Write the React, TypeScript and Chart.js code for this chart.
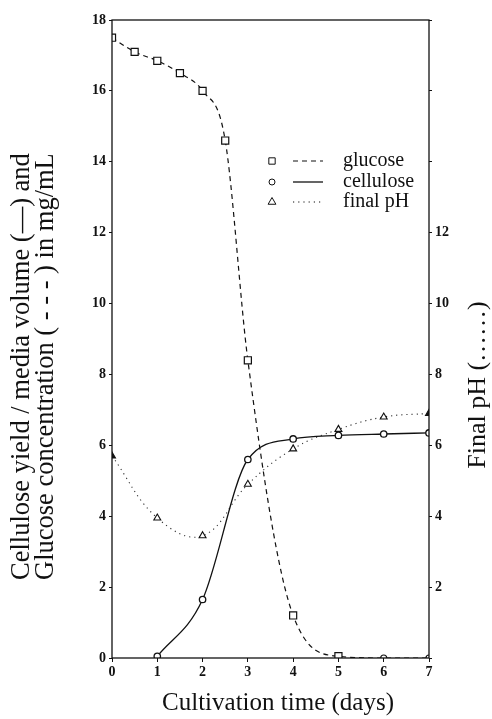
import React, { useEffect, useRef } from 'react';
import { Chart, registerables } from 'chart.js';

Chart.register(...registerables);

// ---- data ----
const glucoseDays = [0, 0.5, 1, 1.5, 2, 2.5, 3, 4, 5, 6, 7];
const glucose = [17.5, 17.1, 16.85, 16.5, 16.0, 14.6, 8.4, 1.2, 0.05, 0, 0];
const celluloseDays = [1, 2, 3, 4, 5, 6, 7];
const cellulose = [0.05, 1.65, 5.6, 6.18, 6.28, 6.32, 6.35];
const phDays = [0, 1, 2, 3, 4, 5, 6, 7];
const finalPH = [5.7, 3.95, 3.45, 4.9, 5.9, 6.45, 6.8, 6.9];
const rightTickLabels = [2, 4, 6, 8, 10, 12];
const seriesLabels = ['glucose', 'cellulose', 'final pH'];
const xTitle = 'Cultivation time (days)';
const leftTitle = ['Cellulose yield / media volume (\u2014) and', 'Glucose concentration ( - - - ) in mg/mL'];
const rightTitle = 'Final pH (\u2026\u2026)';

const INK = '#111';
const SERIF = '"Liberation Serif", "Times New Roman", serif';

function drawMarker(ctx: CanvasRenderingContext2D, style: string, x: number, y: number, r: number) {
  ctx.beginPath();
  if (style === 'rect') {
    const s = r * Math.SQRT1_2;
    ctx.rect(x - s, y - s, 2 * s, 2 * s);
  } else if (style === 'triangle') {
    ctx.moveTo(x, y - r);
    ctx.lineTo(x + r * 0.866, y + r * 0.5);
    ctx.lineTo(x - r * 0.866, y + r * 0.5);
    ctx.closePath();
  } else {
    ctx.arc(x, y, r, 0, Math.PI * 2);
  }
  ctx.stroke();
}

const decorPlugin = {
  id: 'decor',
  afterDraw(chart: any) {
    const { ctx, chartArea } = chart;
    ctx.save();
    // frame
    ctx.strokeStyle = INK;
    ctx.lineWidth = 1.3;
    ctx.setLineDash([]);
    ctx.strokeRect(chartArea.left, chartArea.top, chartArea.right - chartArea.left, chartArea.bottom - chartArea.top);

    // legend
    const rows = [161, 182, 202];
    chart.data.datasets.forEach((ds: any, i: number) => {
      const y = rows[i];
      ctx.strokeStyle = INK;
      ctx.lineWidth = 1;
      ctx.setLineDash([]);
      drawMarker(ctx, ds.legendStyle, 272, y, ds.legendStyle === 'circle' ? 3 : 4.5);
      ctx.beginPath();
      ctx.lineWidth = ds.borderWidth;
      ctx.setLineDash(ds.borderDash || []);
      ctx.moveTo(293, y);
      ctx.lineTo(323, y);
      ctx.stroke();
      ctx.setLineDash([]);
      ctx.fillStyle = INK;
      ctx.font = `20px ${SERIF}`;
      ctx.textAlign = 'left';
      ctx.textBaseline = 'middle';
      ctx.fillText(ds.label, 343, y);
    });

    // titles
    ctx.fillStyle = INK;
    ctx.font = `25px ${SERIF}`;
    ctx.textAlign = 'center';
    ctx.textBaseline = 'middle';
    ctx.fillText(xTitle, 278, 703);

    ctx.save();
    ctx.translate(22, 580);
    ctx.rotate(-Math.PI / 2);
    ctx.font = `26.5px ${SERIF}`;
    ctx.textAlign = 'left';
    ctx.fillText(leftTitle[0], 0, 0);
    ctx.fillText(leftTitle[1], 0, 24);
    ctx.restore();

    ctx.save();
    ctx.translate(478, 385);
    ctx.rotate(-Math.PI / 2);
    ctx.font = `26px ${SERIF}`;
    ctx.textAlign = 'center';
    ctx.fillText(rightTitle, 0, 0);
    ctx.restore();
    ctx.restore();
  },
};

export default function App() {
  const ref = useRef<HTMLCanvasElement>(null);

  useEffect(() => {
    if (!ref.current) return;
    const tickFont = { family: SERIF, size: 14, weight: 'bold' as const };
    const chart = new Chart(ref.current, {
      type: 'line',
      data: {
        datasets: [
          {
            label: seriesLabels[0],
            data: glucoseDays.map((d, i) => ({ x: d, y: glucose[i] })),
            borderColor: INK,
            borderWidth: 1.2,
            borderDash: [5, 4],
            cubicInterpolationMode: 'monotone',
            pointStyle: glucoseDays.map((d) => (d >= 6 ? 'circle' : 'rect')),
            pointRadius: glucoseDays.map((d) => (d >= 6 ? 3 : 5)),
            pointBorderColor: INK,
            pointBackgroundColor: '#fff',
            pointBorderWidth: 1.2,
            fill: false,
            yAxisID: 'y',
            legendStyle: 'rect',
          } as any,
          {
            label: seriesLabels[1],
            data: celluloseDays.map((d, i) => ({ x: d, y: cellulose[i] })),
            borderColor: INK,
            borderWidth: 1.3,
            cubicInterpolationMode: 'monotone',
            pointStyle: 'circle',
            pointRadius: 3.2,
            pointBorderColor: INK,
            pointBackgroundColor: '#fff',
            pointBorderWidth: 1.3,
            fill: false,
            yAxisID: 'y',
            legendStyle: 'circle',
          } as any,
          {
            label: seriesLabels[2],
            data: phDays.map((d, i) => ({ x: d, y: finalPH[i] })),
            borderColor: '#333',
            borderWidth: 1.1,
            borderDash: [1.2, 4],
            tension: 0.4,
            pointStyle: 'triangle',
            pointRadius: 4,
            pointBorderColor: INK,
            pointBackgroundColor: phDays.map((d) => (d === 0 || d === 7 ? INK : '#fff')),
            pointBorderWidth: 1.1,
            fill: false,
            yAxisID: 'y2',
            legendStyle: 'triangle',
          } as any,
        ],
      },
      options: {
        responsive: false,
        animation: false,
        layout: { padding: { top: 20, left: 0, right: 0, bottom: 0 } },
        plugins: {
          legend: { display: false },
          tooltip: { enabled: false },
          title: { display: false },
        },
        scales: {
          x: {
            type: 'linear',
            min: 0,
            max: 7,
            ticks: { stepSize: 1, color: INK, font: tickFont, padding: 2 },
            grid: { drawOnChartArea: false, tickLength: 4, color: INK },
            border: { display: false },
            afterFit: (s: any) => { s.height = 61; },
          },
          y: {
            type: 'linear',
            position: 'left',
            min: 0,
            max: 18,
            ticks: { stepSize: 2, color: INK, font: tickFont, padding: 3 },
            grid: { drawOnChartArea: false, tickLength: 3, color: INK },
            border: { display: false },
            afterFit: (s: any) => { s.width = 112; },
          },
          y2: {
            type: 'linear',
            position: 'right',
            min: 0,
            max: 18,
            ticks: {
              stepSize: 2,
              color: INK,
              font: tickFont,
              padding: 3,
              callback: (v: any) => (rightTickLabels.includes(Number(v)) ? String(v) : ''),
            },
            grid: { drawOnChartArea: false, tickLength: 3, color: INK },
            border: { display: false },
            afterFit: (s: any) => { s.width = 63; },
          },
        },
      } as any,
      plugins: [decorPlugin],
    });
    return () => chart.destroy();
  }, []);

  return (
    <div style={{ position: 'fixed', left: 0, top: 0, width: 492, height: 719, background: '#fff' }}>
      <canvas ref={ref} width={492} height={719} style={{ display: 'block' }} />
    </div>
  );
}
